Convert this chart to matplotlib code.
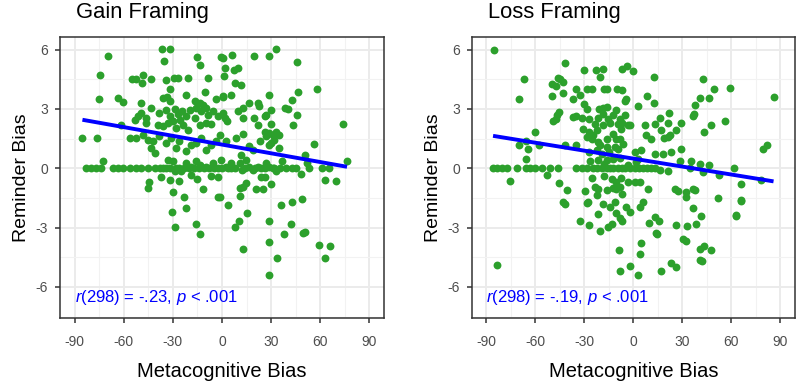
import numpy as np
import matplotlib.pyplot as plt
from matplotlib.ticker import MultipleLocator

plt.rcParams['font.family'] = ['Liberation Sans', 'DejaVu Sans']
plt.rcParams['mathtext.fontset'] = 'custom'
plt.rcParams['mathtext.rm'] = 'Liberation Sans'
plt.rcParams['mathtext.it'] = 'Liberation Sans:italic'
plt.rcParams['axes.unicode_minus'] = False

# Gain framing: metacognitive bias (x) vs reminder bias (y)
gain_pts = [
    (-69.7, 5.66), (-36.5, 6.02), (-32.0, 6.02), (-35.7, 5.41), (-15.4, 5.63), (-13.3, 5.24), (-0.7, 5.61),
    (-74.7, 4.70), (-54.8, 4.53), (-52.8, 4.53), (-48.3, 4.70), (-48.7, 4.31), (-43.4, 4.53), (-34.5, 4.48),
    (-29.6, 4.57), (-26.8, 4.57), (-20.6, 4.57), (-8.8, 4.57),
    (-32.0, 4.03), (-21.9, 3.69), (-10.1, 3.86), (-3.6, 3.52), (0.9, 3.59),
    (-75.4, 3.52), (-63.6, 3.55), (-60.5, 3.33), (-49.5, 3.30), (-36.1, 3.55), (-33.7, 3.59), (-32.0, 3.38),
    (-16.8, 3.38), (-13.7, 3.30), (-11.7, 3.18), (-9.7, 3.05), (-12.7, 2.88), (-15.8, 3.05), (-43.2, 3.05),
    (-49.3, 2.79), (-51.4, 2.62), (-53.4, 2.46), (-46.3, 2.54), (-46.7, 2.29),
    (-38.2, 2.79), (-34.1, 2.96), (-32.0, 2.62), (-29.0, 3.01), (-27.0, 2.74), (-25.5, 2.46), (-24.3, 2.88),
    (-21.9, 2.62), (-19.4, 2.96), (-16.8, 2.54), (-8.6, 2.71), (-5.6, 2.88), (-2.5, 2.62), (0.5, 2.79),
    (-61.5, 2.20), (-39.2, 2.20), (-36.1, 2.12), (-33.0, 2.29), (-30.0, 2.37), (-28.0, 2.03), (-24.0, 2.20),
    (-21.0, 1.95), (-13.7, 2.20), (-9.7, 2.29), (-6.6, 2.24),
    (-85.3, 1.53), (-76.4, 1.53), (-56.4, 1.53), (-52.4, 1.53), (-48.3, 1.70), (-45.3, 1.44), (-42.2, 1.36),
    (-38.2, 1.61), (-34.1, 1.27), (-31.0, 1.53), (-28.0, 1.02), (-26.0, 1.36), (-21.9, 0.85), (-18.8, 1.19),
    (-15.8, 1.27), (-12.7, 1.53), (-9.7, 0.94), (-6.6, 1.19), (-3.6, 1.36), (-43.2, 1.02), (-41.2, 0.77),
    (-72.7, 0.38), (-33.0, 0.43), (-30.0, 0.35),
    (-28.0, 0.01), (-24.9, -0.16), (-21.9, 0.26), (-18.8, 0.09), (-15.8, 0.35), (-13.7, 0.18), (-9.7, 0.09),
    (-5.6, 0.26), (-2.6, 0.01),
    (-82.9, 0.0), (-79.8, 0.0), (-76.8, 0.0), (-73.7, 0.0), (-66.6, 0.0), (-63.6, 0.0), (-60.5, 0.0),
    (-56.0, 0.0), (-52.8, 0.0), (-49.3, 0.0), (-45.3, 0.0), (-38.0, 0.0), (-34.5, 0.0), (-32.0, 0.0),
    (-41.0, 0.0), (-36.0, 0.0), (-26.5, 0.0), (-23.0, 0.0), (-20.0, 0.0), (-17.0, 0.0), (-14.0, 0.0),
    (-11.0, 0.0), (-8.0, 0.0), (-5.0, 0.0), (0.0, 0.0), (3.5, 0.0), (8.0, 0.0), (14.0, 0.0), (20.0, 0.0),
    (26.0, 0.0), (31.0, 0.0), (35.5, 0.0), (39.0, 0.0),
    (-44.6, -0.67), (-45.5, -1.00), (-37.0, -0.46), (-32.0, -0.58), (-29.0, -0.16), (-26.0, -0.63),
    (-30.0, -1.20), (-11.7, -1.06), (-2.6, -0.46), (-19.0, -0.35), (-7.0, -0.40), (-15.0, -0.55),
    (0.5, 5.58), (6.2, 5.75), (19.8, 5.66), (28.6, 5.66), (33.0, 6.02), (45.7, 5.38),
    (2.1, 5.07), (1.5, 4.65), (7.6, 4.99), (9.7, 5.07), (8.2, 4.31), (11.7, 4.23),
    (0.5, 3.64), (5.6, 3.69), (28.6, 3.69), (42.8, 3.47), (46.3, 3.86), (57.9, 4.01),
    (9.7, 2.88), (12.7, 3.05), (16.4, 3.30), (21.9, 3.30), (22.5, 3.13), (30.0, 2.96), (27.0, 2.71),
    (26.0, 2.62), (38.7, 3.05), (40.2, 3.01), (45.7, 2.71),
    (2.1, 2.54), (2.9, 2.37), (13.1, 2.54), (19.8, 2.54), (21.9, 2.20), (30.0, 2.24), (43.2, 2.17), (73.7, 2.24),
    (-1.5, 1.70), (2.5, 1.36), (8.6, 1.53), (13.1, 1.73), (26.0, 1.86), (27.0, 1.61), (29.0, 1.78),
    (31.0, 1.70), (33.0, 1.83), (35.0, 1.70), (32.0, 1.44), (30.0, 1.27), (29.0, 1.19), (23.0, 1.36),
    (35.0, 1.02), (56.4, 1.22), (16.4, 1.11), (18.8, 0.94),
    (11.7, 0.68), (14.7, 0.43), (11.1, 0.26), (12.3, -0.08), (5.6, 0.26), (2.5, 0.09), (5.6, 0.01), (-0.5, 0.43),
    (16.8, 0.09), (18.8, -0.08), (21.9, 0.09), (23.9, 0.01), (27.0, 0.26), (29.0, 0.09), (32.0, 0.01), (33.0, -0.13),
    (36.7, 0.38), (42.8, 0.04), (45.2, 0.04), (51.8, 0.26), (53.0, 0.01), (51.0, 0.65), (61.1, 0.04),
    (65.6, 0.04), (76.4, 0.38), (48.3, -0.30), (63.1, -0.60), (69.7, -0.63),
    (10.7, -1.00), (12.7, -0.97), (14.7, -0.75), (20.8, -1.04), (24.9, -1.04), (30.0, -0.80), (23.9, -0.46), (26.0, -0.46),
    (-23.5, -1.46), (-22.3, -2.02), (-30.4, -2.19), (-29.0, -2.95), (-15.8, -2.83), (-13.3, -3.33), (-2.5, -1.46),
    (-1.5, -1.43), (3.6, -1.85), (10.7, -1.39), (15.2, -2.27), (10.1, -2.64), (8.2, -2.98), (12.7, -4.09),
    (28.6, -2.64), (29.0, -3.71), (33.5, -4.55), (28.6, -5.39), (36.1, -1.88), (42.8, -1.68), (48.9, -1.56),
    (37.7, -3.32), (42.4, -2.81), (49.7, -3.28), (51.0, -3.20), (59.5, -3.88), (66.2, -3.93), (63.2, -4.52),
]

# Loss framing
loss_pts = [
    (-85.5, 5.97), (-41.8, 5.35), (-66.8, 4.50), (-70.3, 3.52), (-50.0, 4.28), (-47.3, 4.16), (-44.9, 4.50),
    (-43.2, 4.37), (-45.9, 4.57), (-50.0, 3.66), (-43.2, 3.83), (-30.2, 4.96), (-22.9, 4.96), (-18.8, 5.01),
    (-20.4, 4.62), (-35.1, 4.00), (-28.6, 4.00), (-25.5, 4.00), (-18.0, 4.00), (-16.4, 4.00), (-9.9, 4.00),
    (-32.6, 3.69), (-36.7, 3.49), (-30.2, 3.27), (-28.2, 3.02), (-45.3, 2.85), (-46.5, 2.68), (-48.9, 2.38),
    (-47.3, 2.51), (-36.7, 2.60), (-35.1, 2.65), (-31.6, 2.54), (-27.0, 2.51),
    (-20.8, 2.98), (-18.4, 3.05), (-16.4, 3.10), (-18.8, 2.76), (-21.5, 2.54), (-15.4, 2.51), (-12.3, 2.68),
    (-10.3, 2.93), (-23.5, 2.26), (-18.4, 2.21), (-14.4, 2.31), (-9.3, 2.26),
    (-60.1, 1.83), (-30.6, 2.00), (-27.0, 1.83), (-24.5, 1.67), (-22.5, 1.92), (-25.5, 1.50), (-28.6, 1.58),
    (-21.5, 1.33), (-12.7, 1.75), (-16.4, 1.50), (-10.3, 1.50),
    (-70.3, 1.16), (-65.6, 1.36), (-64.8, 0.99), (-57.5, 1.16), (-41.8, 1.20), (-35.1, 1.20),
    (-20.4, 1.16), (-16.4, 1.08), (-22.5, 0.91), (-19.4, 0.74), (-27.0, 0.82), (-14.7, 0.82),
    (-65.6, 0.45), (-21.5, 0.40), (-26.5, 0.35), (-16.4, 0.40), (-12.3, 0.45),
    (-85.9, 0.0), (-83.5, 0.0), (-80.4, 0.0), (-77.4, 0.0), (-71.3, 0.0), (-65.6, 0.0), (-63.2, 0.0),
    (-60.1, 0.0), (-56.0, 0.0), (-51.0, 0.0), (-45.9, 0.0), (-35.1, 0.0), (-31.6, 0.0), (-28.6, 0.0),
    (-24.5, 0.0), (-19.4, 0.0), (-16.4, 0.0), (-12.3, 0.0), (-9.3, 0.0), (-22.0, 0.0), (-14.0, 0.0),
    (-5.2, 0.0), (-2.1, 0.0), (0.9, 0.0), (6.0, 0.0), (11.0, 0.0), (16.2, -0.10), (21.2, -0.16), (34.5, 0.0),
    (3.5, 0.0), (8.5, 0.0), (-7.0, 0.0), (13.5, 0.0), (-3.5, 0.15), (1.5, 0.3), (-18.0, 0.2), (-8.0, 0.5),
    (-75.4, -0.66), (-53.0, -0.33), (-45.3, -0.73), (-40.4, -1.12),
    (-29.6, -1.17), (-23.5, -0.95), (-21.5, -1.07), (-16.4, -1.12), (-12.3, -1.00), (-10.3, -1.07),
    (-13.3, -0.53), (-10.7, -0.70), (-7.8, -0.50), (-18.0, -0.40), (-25.0, -0.50),
    (-6.8, 5.01), (-3.6, 5.18), (-0.1, 4.91), (12.7, 4.62), (42.6, 4.54), (-6.8, 3.95),
    (8.6, 3.66), (12.7, 3.32), (-4.2, 3.52), (-5.2, 3.39), (2.9, 3.15), (49.7, 4.00), (59.5, 4.06),
    (40.6, 3.56), (46.1, 3.56), (37.9, 3.22), (37.1, 2.76), (36.5, 2.65), (85.9, 3.61),
    (21.6, 2.81), (16.2, 2.54), (13.5, 2.26), (21.2, 2.31), (29.0, 2.31),
    (-8.2, 2.51), (-5.2, 2.68), (-7.2, 2.31), (-3.2, 2.17), (-2.1, 2.20), (-7.6, 2.00),
    (7.0, 2.17), (8.0, 1.67), (11.0, 1.50), (16.8, 1.92), (18.8, 1.53), (21.2, 1.58), (22.3, 1.67),
    (26.3, 1.92), (47.7, 2.17), (43.2, 1.83), (56.2, 2.37), (81.8, 1.20), (79.2, 0.99),
    (-8.2, 1.50), (-6.2, 1.25), (-9.3, 0.99), (-11.3, 1.08),
    (13.1, 0.74), (18.2, 0.74), (23.3, 0.82), (29.4, 0.99), (0.9, 0.82), (5.0, 0.91), (3.0, 0.49),
    (28.4, 0.35), (35.1, 0.35), (40.6, 0.24), (46.2, 0.17), (43.0, -0.19), (61.9, 0.01),
    (66.0, -0.78), (78.2, -0.61), (52.8, -0.36),
    (-8.2, -0.95), (-3.2, -0.70), (0.9, -0.70), (4.0, -0.70), (9.0, -1.03),
    (25.3, -1.03), (27.3, -1.17), (32.4, -1.20), (36.5, -1.07), (37.5, -1.12), (32.4, -1.45),
    (-83.5, -4.91), (-42.8, -1.70), (-41.8, -1.82), (-22.5, -1.36), (-27.5, -1.70), (-28.2, -1.75),
    (-21.5, -2.33), (-32.6, -2.66), (-27.0, -2.88), (-20.4, -3.17), (-15.4, -2.97), (-13.3, -2.80),
    (-18.4, -1.78), (-14.4, -1.95), (-11.3, -1.70), (-10.3, -2.26), (-8.2, -2.50), (-9.0, -4.11), (-8.0, -5.20),
    (-7.2, -1.31), (-4.2, -1.95), (-2.2, -2.20), (-7.2, -2.66), (6.0, -1.70), (4.0, -1.95),
    (9.6, -2.75), (13.1, -2.46), (15.5, -2.66), (14.1, -3.27), (14.7, -3.30), (4.6, -3.78), (4.0, -4.35),
    (-2.1, -4.96), (2.9, -5.41), (16.8, -5.19), (22.9, -4.79), (25.9, -4.99),
    (26.3, -2.88), (33.0, -2.93), (38.5, -2.83), (36.5, -1.99), (41.6, -2.43), (51.7, -1.48), (66.0, -1.65),
    (63.0, -2.38), (30.4, -3.56), (32.4, -3.68), (40.6, -4.06), (43.2, -3.95), (47.7, -4.11),
    (40.6, -4.62), (42.0, -4.69), (66.0, -1.62), (63.0, -2.41),
]

# fitted lines (intercept, slope)
gain_fit = (1.20, -0.0147)
loss_fit = (0.49, -0.0134)

titles = ['Gain Framing', 'Loss Framing']
stats = ['$r$(298) = -.23, $p$ < .001', '$r$(298) = -.19, $p$ < .001']

fig = plt.figure(figsize=(7.97, 3.87), dpi=100)
ax1 = fig.add_axes([0.0753, 0.1783, 0.4065, 0.7261])
ax2 = fig.add_axes([0.5918, 0.1783, 0.4056, 0.7261])

for ax, pts, fit, title, stat, tx in zip([ax1, ax2], [gain_pts, loss_pts], [gain_fit, loss_fit],
                                        titles, stats, [76, 488]):
    x = np.array([p[0] for p in pts])
    y = np.array([p[1] for p in pts])
    ax.scatter(x, y, s=32, color='#2ca02c', linewidths=0, zorder=3)
    xs = np.array([x.min(), x.max()])
    ax.plot(xs, fit[0] + fit[1] * xs, color='#0000ff', lw=2.8, zorder=4, solid_capstyle='butt')

    ax.set_xlim(-99, 99)
    ax.set_ylim(-7.57, 6.64)
    ax.xaxis.set_major_locator(MultipleLocator(30))
    ax.xaxis.set_minor_locator(MultipleLocator(15))
    ax.yaxis.set_major_locator(MultipleLocator(3))
    ax.yaxis.set_minor_locator(MultipleLocator(1.5))
    ax.grid(which='major', color='#ebebeb', lw=1.4, zorder=0)
    ax.grid(which='minor', color='#f2f2f2', lw=0.8, zorder=0)
    ax.set_axisbelow(True)
    ax.tick_params(which='minor', length=0)
    ax.tick_params(which='major', length=3.5, width=1.1, color='#333333',
                   labelcolor='#4d4d4d', labelsize=10)
    ax.tick_params(axis='x', pad=9)
    ax.tick_params(axis='y', pad=5)
    for sp in ax.spines.values():
        sp.set_color('#333333')
        sp.set_linewidth(1.1)

    ax.set_xlabel('Metacognitive Bias', fontsize=14.5, labelpad=9)
    ax.set_ylabel('Reminder Bias', fontsize=14, labelpad=4)
    ax.text(-90, -6.55, stat, color='#0000ff', fontsize=12, va='center', ha='left')
    fig.text(tx / 797, 1 - 18 / 387, title, fontsize=15.8, va='baseline', ha='left')

fig.savefig('out.png', dpi=100)
